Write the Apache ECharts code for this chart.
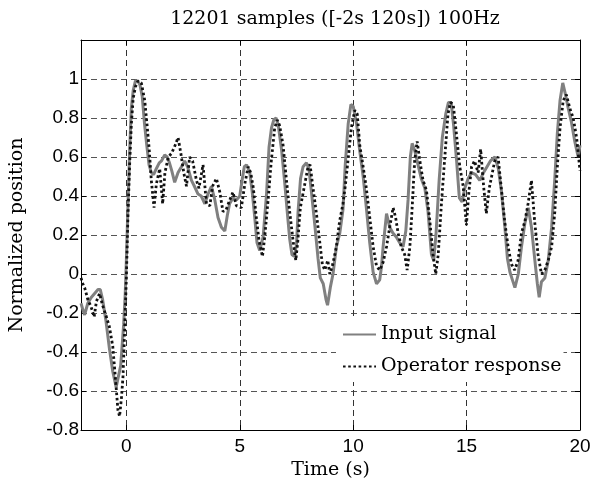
<!DOCTYPE html>
<html>
<head>
<meta charset="utf-8">
<script src="https://cdn.jsdelivr.net/npm/echarts@6/dist/echarts.min.js"></script>
<style>
html,body{margin:0;padding:0;background:#fff;}
#chart{width:599px;height:481px;}
</style>
</head>
<body>
<div id="chart"></div>
<script>
var titleText = '12201 samples ([-2s 120s]) 100Hz';
var xName = 'Time (s)';
var yName = 'Normalized position';
var seriesNames = ['Input signal', 'Operator response'];

var inputT = [-2.0,-1.9,-1.84,-1.7,-1.55,-1.4,-1.25,-1.15,-1.05,-0.9,-0.75,-0.6,-0.45,-0.37,-0.25,-0.12,-0.05,0.0,0.07,0.15,0.22,0.3,0.4,0.5,0.6,0.7,0.8,0.9,1.0,1.1,1.2,1.32,1.45,1.55,1.69,1.8,1.9,2.0,2.13,2.28,2.43,2.57,2.7,2.87,3.0,3.16,3.3,3.46,3.6,3.75,3.9,4.04,4.19,4.34,4.45,4.55,4.7,4.85,5.0,5.1,5.2,5.3,5.44,5.55,5.66,5.76,5.88,6.03,6.18,6.29,6.4,6.5,6.6,6.7,6.84,6.98,7.1,7.2,7.3,7.4,7.5,7.57,7.68,7.79,7.94,8.05,8.16,8.31,8.45,8.55,8.68,8.8,8.87,8.99,9.11,9.26,9.41,9.55,9.65,9.78,9.9,10.0,10.15,10.29,10.44,10.58,10.73,10.88,11.03,11.17,11.25,11.32,11.47,11.61,11.75,11.9,12.05,12.2,12.32,12.42,12.52,12.6,12.72,12.86,13.0,13.16,13.3,13.45,13.55,13.65,13.79,13.93,14.08,14.2,14.32,14.43,14.56,14.68,14.8,14.92,15.07,15.22,15.4,15.58,15.75,15.9,16.05,16.25,16.4,16.53,16.68,16.8,16.91,17.02,17.13,17.28,17.42,17.57,17.72,17.86,18.01,18.12,18.2,18.3,18.45,18.6,18.75,18.89,19.0,19.12,19.24,19.36,19.48,19.62,19.77,19.92,20.0];
var inputV = [-0.15,-0.19,-0.21,-0.15,-0.12,-0.10,-0.08,-0.08,-0.13,-0.24,-0.38,-0.50,-0.58,-0.59,-0.47,-0.26,-0.10,0.07,0.35,0.65,0.85,0.94,0.99,0.99,0.97,0.91,0.77,0.66,0.56,0.52,0.51,0.54,0.57,0.58,0.61,0.60,0.57,0.53,0.47,0.52,0.55,0.58,0.55,0.48,0.45,0.41,0.40,0.36,0.41,0.45,0.38,0.29,0.24,0.22,0.30,0.36,0.39,0.38,0.40,0.48,0.55,0.56,0.52,0.42,0.29,0.16,0.12,0.19,0.41,0.65,0.75,0.79,0.80,0.76,0.64,0.47,0.31,0.18,0.10,0.09,0.15,0.32,0.49,0.55,0.57,0.54,0.42,0.25,0.08,-0.02,-0.05,-0.13,-0.16,-0.07,0.0,0.14,0.21,0.33,0.56,0.77,0.87,0.86,0.77,0.63,0.50,0.34,0.16,0.01,-0.05,-0.03,0.04,0.14,0.31,0.24,0.21,0.19,0.16,0.14,0.22,0.38,0.60,0.67,0.63,0.56,0.49,0.44,0.32,0.10,0.07,0.20,0.48,0.70,0.82,0.88,0.88,0.76,0.58,0.39,0.37,0.44,0.49,0.52,0.51,0.48,0.52,0.55,0.58,0.60,0.54,0.43,0.25,0.08,0.01,-0.03,-0.07,0.0,0.14,0.26,0.34,0.24,0.07,-0.05,-0.12,-0.04,-0.02,0.07,0.24,0.49,0.72,0.89,0.98,0.92,0.85,0.78,0.68,0.60,0.66];

var respT = [-2.0,-1.92,-1.84,-1.7,-1.55,-1.42,-1.32,-1.18,-1.05,-0.88,-0.75,-0.6,-0.5,-0.37,-0.3,-0.22,-0.15,-0.07,0.0,0.07,0.15,0.22,0.3,0.4,0.51,0.66,0.81,0.9,1.0,1.1,1.22,1.32,1.47,1.6,1.7,1.85,2.0,2.15,2.28,2.4,2.53,2.65,2.79,2.92,3.09,3.2,3.38,3.53,3.68,3.8,3.97,4.12,4.26,4.4,4.56,4.7,4.85,5.07,5.22,5.37,5.48,5.6,5.7,5.85,6.0,6.1,6.25,6.39,6.54,6.66,6.76,6.91,7.05,7.2,7.35,7.47,7.56,7.67,7.8,8.01,8.1,8.23,8.38,8.52,8.64,8.75,8.88,8.97,9.1,9.26,9.4,9.55,9.65,9.77,9.92,10.07,10.18,10.29,10.44,10.58,10.73,10.88,11.03,11.17,11.32,11.47,11.61,11.76,11.87,11.98,12.12,12.27,12.38,12.5,12.6,12.71,12.82,12.94,13.08,13.23,13.38,13.52,13.64,13.75,13.89,14.04,14.18,14.29,14.41,14.55,14.7,14.85,14.99,15.1,15.22,15.35,15.51,15.62,15.75,15.87,16.0,16.24,16.39,16.53,16.68,16.83,16.98,17.12,17.27,17.42,17.57,17.71,17.86,18.0,18.15,18.3,18.45,18.6,18.75,18.89,19.0,19.12,19.26,19.4,19.55,19.7,19.85,20.0];
var respV = [-0.02,-0.05,-0.07,-0.13,-0.17,-0.22,-0.14,-0.10,-0.16,-0.22,-0.27,-0.37,-0.51,-0.70,-0.73,-0.64,-0.53,-0.27,-0.02,0.30,0.58,0.77,0.90,0.96,0.99,0.98,0.89,0.78,0.65,0.48,0.34,0.46,0.54,0.36,0.52,0.60,0.62,0.66,0.70,0.62,0.52,0.45,0.60,0.58,0.48,0.44,0.56,0.36,0.35,0.45,0.49,0.42,0.32,0.33,0.38,0.42,0.35,0.34,0.46,0.55,0.52,0.44,0.32,0.17,0.09,0.19,0.38,0.58,0.75,0.79,0.76,0.66,0.49,0.32,0.17,0.07,0.17,0.34,0.42,0.55,0.56,0.44,0.31,0.17,0.05,0.02,0.07,0.0,0.05,0.14,0.27,0.36,0.45,0.58,0.75,0.84,0.82,0.66,0.55,0.44,0.29,0.14,0.04,0.02,0.06,0.14,0.24,0.34,0.29,0.21,0.14,0.10,0.02,0.14,0.34,0.58,0.68,0.58,0.48,0.43,0.27,0.10,0.0,0.10,0.36,0.60,0.82,0.88,0.87,0.72,0.55,0.45,0.25,0.42,0.55,0.58,0.52,0.64,0.45,0.31,0.44,0.58,0.60,0.44,0.27,0.14,0.05,0.02,0.07,0.21,0.27,0.36,0.48,0.27,0.10,0.0,0.02,0.07,0.14,0.32,0.55,0.75,0.89,0.92,0.85,0.80,0.70,0.53];

function pairs(ts, vs){ return ts.map(function(t,i){ return [t, vs[i]]; }); }

var serifFont = '"DejaVu Serif", "Liberation Serif", serif';
var sansFont = '"Liberation Sans", Arial, sans-serif';

var chart = echarts.init(document.getElementById('chart'), null, {renderer:'canvas'});
var gridLine = {show:true, lineStyle:{color:'#333', width:1, type:[6,4]}};
chart.setOption({
  animation:false,
  backgroundColor:'#fff',
  title:{text:titleText, left:330, top:5, textAlign:'center',
    textStyle:{fontFamily:serifFont, fontSize:19, fontWeight:'normal', color:'#000'}},
  grid:{left:81, right:19, top:40, bottom:51, containLabel:false, outerBoundsMode:'none'},
  legend:{
    show:true, data:seriesNames,
    orient:'vertical', left:336, top:319, right:'auto', bottom:'auto', padding:[6,2,6,6],
    backgroundColor:'#fff', itemWidth:33, itemHeight:14, itemGap:13,
    itemStyle:{opacity:0, borderWidth:0},
    textStyle:{fontFamily:serifFont, fontSize:19, color:'#000'}
  },
  xAxis:[
    {type:'value', min:-2, max:20, splitNumber:5, position:'bottom',
      name:xName, nameLocation:'middle', nameGap:24,
      nameTextStyle:{fontFamily:serifFont, fontSize:19, color:'#000'},
      axisLine:{show:true, onZero:false, lineStyle:{color:'#000', width:1}},
      axisTick:{show:true, inside:true, length:5, lineStyle:{color:'#000'}},
      axisLabel:{show:true, showMinLabel:false, margin:7, fontFamily:sansFont, fontSize:19, color:'#000'},
      splitLine:gridLine},
    {type:'value', min:-2, max:20, splitNumber:5, position:'top',
      axisLine:{show:true, onZero:false, lineStyle:{color:'#000', width:1}},
      axisTick:{show:true, inside:true, length:5, lineStyle:{color:'#000'}},
      axisLabel:{show:false}, splitLine:{show:false}}
  ],
  yAxis:[
    {type:'value', min:-0.8, max:1.2, interval:0.2, position:'left',
      name:yName, nameLocation:'middle', nameGap:54,
      nameTextStyle:{fontFamily:serifFont, fontSize:19, color:'#000'},
      axisLine:{show:true, onZero:false, lineStyle:{color:'#000', width:1}},
      axisTick:{show:true, inside:true, length:5, lineStyle:{color:'#000'}},
      axisLabel:{show:true, showMaxLabel:false, margin:2, fontFamily:sansFont, fontSize:19, color:'#000'},
      splitLine:{show:true, lineStyle:{color:'#555', width:1, type:[6,4]}}},
    {type:'value', min:-0.8, max:1.2, interval:0.2, position:'right',
      axisLine:{show:true, onZero:false, lineStyle:{color:'#000', width:1}},
      axisTick:{show:true, inside:true, length:5, lineStyle:{color:'#000'}},
      axisLabel:{show:false}, splitLine:{show:false}}
  ],
  series:[
    {name:seriesNames[0], type:'line', xAxisIndex:0, yAxisIndex:0, showSymbol:false, symbol:'none',
      data:pairs(inputT, inputV), lineStyle:{color:'#808080', width:3}, itemStyle:{color:'#808080'}, z:2},
    {name:seriesNames[1], type:'line', xAxisIndex:0, yAxisIndex:0, showSymbol:false, symbol:'none',
      data:pairs(respT, respV), lineStyle:{color:'#111', width:2.8, type:[2.6,2.6]}, itemStyle:{color:'#111'}, z:3}
  ]
});
</script>
</body>
</html>
